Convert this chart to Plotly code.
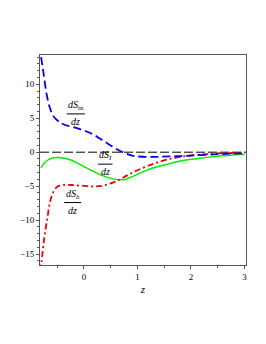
import plotly.graph_objects as go

# dS_in/dz (blue, dashed)
x_in = [-0.80, -0.77, -0.74, -0.70, -0.65, -0.60, -0.55, -0.45, -0.35, -0.20, 0.0, 0.1, 0.2, 0.3, 0.4, 0.5, 0.6, 0.7, 0.8, 0.9, 1.0, 1.2, 1.4, 1.7, 2.0, 2.5, 3.0]
y_in = [14.0, 12.5, 10.8, 8.7, 6.9, 5.8, 5.1, 4.4, 4.0, 3.7, 3.2, 2.9, 2.5, 2.0, 1.5, 1.0, 0.5, 0.1, -0.25, -0.5, -0.62, -0.7, -0.68, -0.6, -0.5, -0.3, -0.15]

# dS_I/dz (green, solid)
x_i = [-0.80, -0.75, -0.70, -0.60, -0.50, -0.40, -0.30, -0.20, -0.10, 0.0, 0.2, 0.4, 0.6, 0.75, 0.9, 1.1, 1.3, 1.5, 1.8, 2.1, 2.5, 3.0]
y_i = [-2.3, -1.7, -1.3, -0.9, -0.8, -0.85, -1.0, -1.3, -1.7, -2.1, -2.9, -3.6, -4.0, -4.05, -3.6, -2.9, -2.3, -1.9, -1.3, -0.95, -0.6, -0.3]

# dS_h/dz (red, dash-dot)
x_h = [-0.81, -0.77, -0.74, -0.71, -0.68, -0.65, -0.60, -0.55, -0.50, -0.40, -0.30, -0.20, 0.0, 0.2, 0.35, 0.5, 0.65, 0.8, 0.95, 1.2, 1.5, 1.8, 2.2, 2.6, 3.0]
y_h = [-17.5, -14.6, -12.6, -11.0, -9.6, -8.0, -6.4, -5.6, -5.1, -4.85, -4.8, -4.85, -4.95, -5.05, -4.95, -4.6, -4.1, -3.45, -2.85, -2.0, -1.2, -0.7, -0.35, -0.15, -0.08]

# zero reference line
x_zero = [-0.82, 3.03]
y_zero = [0, 0]

# labels: (numerator text, x center, bar y, half width)
labels = [
    ("<i>dS</i><sub>in</sub>", -0.15, 5.63, 0.17),
    ("<i>dS</i><sub><i>I</i></sub>", 0.40, -1.76, 0.135),
    ("<i>dS</i><sub><i>h</i></sub>", -0.21, -7.41, 0.16),
]

SERIF = "Liberation Serif, Times New Roman, DejaVu Serif, serif"

fig = go.Figure()
fig.add_trace(go.Scatter(x=x_zero, y=y_zero, mode="lines",
                         line=dict(color="black", width=1, dash="9px,3px")))
fig.add_trace(go.Scatter(x=x_i, y=y_i, mode="lines", line_shape="spline",
                         line=dict(color="#00ee00", width=1.5)))
fig.add_trace(go.Scatter(x=x_h, y=y_h, mode="lines", line_shape="spline",
                         line=dict(color="#ee0000", width=1.8, dash="6px,3px,2px,3px")))
fig.add_trace(go.Scatter(x=x_in, y=y_in, mode="lines", line_shape="spline",
                         line=dict(color="#0000ee", width=1.8, dash="8px,4px")))

font = dict(family=SERIF, size=10, color="black")
for txt, xc, yb, hw in labels:
    fig.add_shape(type="line", x0=xc - hw, x1=xc + hw, y0=yb, y1=yb,
                  xref="x", yref="y", line=dict(color="black", width=1))
    fig.add_annotation(x=xc, y=yb, text=txt, showarrow=False, yanchor="bottom",
                       font=font)
    fig.add_annotation(x=xc, y=yb, text="<i>dz</i>", showarrow=False, yanchor="top",
                       font=font)

axis_common = dict(showline=True, mirror=True, linecolor="#555555", linewidth=1,
                   ticks="outside", ticklen=3, tickcolor="#555555", showgrid=False,
                   zeroline=False, tickfont=dict(family=SERIF, size=9, color="black"))

fig.update_layout(
    width=250, height=328,
    margin=dict(l=32, r=12, t=47, b=71),
    font=dict(family=SERIF, size=9, color="black"),
    plot_bgcolor="white", paper_bgcolor="white",
    showlegend=False,
    xaxis=dict(range=[-0.82, 3.03], dtick=1, tick0=0,
               minor=dict(dtick=0.5, ticks="outside", ticklen=2, tickcolor="#555555"),
               title=dict(text="<i>z</i>", font=dict(family=SERIF, size=11, color="black"), standoff=4),
               **axis_common),
    yaxis=dict(range=[-16.6, 14.3], dtick=5, tick0=0,
               minor=dict(dtick=1, ticks="outside", ticklen=2, tickcolor="#555555"),
               **axis_common),
)

fig.write_html("out.html")
